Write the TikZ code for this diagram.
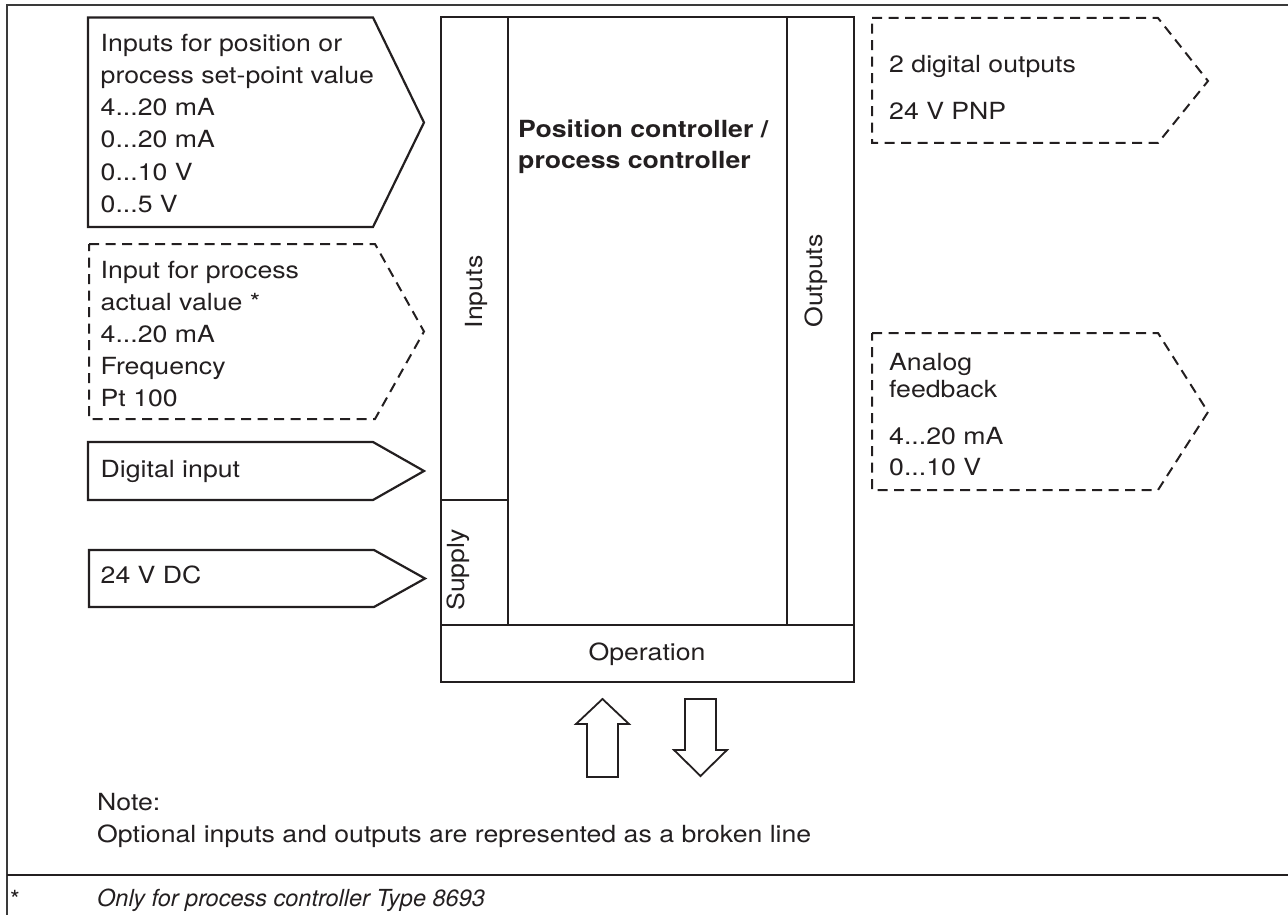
\documentclass[tikz,border=0pt]{standalone}
\usepackage{fontspec}
\setmainfont[FakeStretch=1.13]{TeX Gyre Heros}
\newfontfamily\footfont{TeX Gyre Heros}
\definecolor{ink}{HTML}{231F20}
\definecolor{frame}{HTML}{3A3A3A}
\begin{document}
\begin{tikzpicture}[x=1pt,y=-1pt,
  txt/.style={inner sep=0pt,anchor=base west,text=ink,font=\fontsize{23.6}{30}\selectfont},
  ctxt/.style={inner sep=0pt,anchor=base,text=ink,font=\fontsize{23.6}{30}\selectfont},
  rtxt/.style={inner sep=0pt,anchor=center,rotate=90,text=ink,font=\fontsize{23.6}{30}\selectfont},
  solidbox/.style={draw=ink,line width=2.2pt,line join=miter},
  optbox/.style={draw=ink,line width=2pt,dash pattern=on 10pt off 6.5pt},
  blockline/.style={draw=ink,line width=2.3pt},
  openarrow/.style={draw=ink,line width=1.8pt,fill=white,line join=miter}]
\useasboundingbox (0,0) rectangle (1288,915);
% outer frame
\draw[frame,line width=1.6pt] (1288,5) -- (7,5) -- (7,915);
\draw[ink,line width=2.6pt] (7,875) -- (1288,875);

% left input boxes
\draw[solidbox] (88,17.5) -- (373,17.5) -- (424,122.5) -- (373,227) -- (88,227) -- cycle;
\node[txt] (i1a) at (100.5,52) {Inputs for position or};
\node[txt] (i1b) at (100.5,84) {process set-point value};
\node[txt] (i1c) at (100.5,116) {4...20 mA};
\node[txt] (i1d) at (100.5,148) {0...20 mA};
\node[txt] (i1e) at (100.5,180) {0...10 V};
\node[txt] (i1f) at (100.5,212) {0...5 V};

\draw[optbox] (89,244) -- (375,244) -- (424,331.5) -- (375,419) -- (89,419) -- cycle;
\node[txt] (i2a) at (100.5,278) {Input for process};
\node[txt] (i2b) at (100.5,310) {actual value *};
\node[txt] (i2c) at (100.5,342) {4...20 mA};
\node[txt] (i2d) at (100.5,374) {Frequency};
\node[txt] (i2e) at (100.5,406) {Pt 100};

\draw[solidbox] (88,442) -- (373,442) -- (424,471) -- (373,500) -- (88,500) -- cycle;
\node[txt] (i3) at (100.5,477) {Digital input};

\draw[solidbox] (89,550) -- (374,550) -- (425,578.5) -- (374,607) -- (89,607) -- cycle;
\node[txt] (i4) at (100.5,583) {24 V DC};

% central block
\draw[blockline] (441,17) rectangle (854,682);
\draw[blockline] (508,17) -- (508,625);
\draw[blockline] (787,17) -- (787,625);
\draw[blockline] (441,625) -- (854,625);
\draw[blockline] (441,500) -- (508,500);
\node[txt,font=\fontsize{23.6}{30}\selectfont\bfseries] (t1) at (518,138) {Position controller /};
\node[txt,font=\fontsize{23.6}{30}\selectfont\bfseries] (t2) at (518,168) {process controller};
\node[rtxt] (inp) at (476,292) {Inputs};
\node[rtxt] (outp) at (816,281) {Outputs};
\node[rtxt] (sup) at (458,570) {Supply};
\node[ctxt] (op) at (647,660) {Operation};

% operation arrows
\draw[openarrow] (587,777) -- (587,724) -- (576,724) -- (602.5,699) -- (629,724) -- (618,724) -- (618,777) -- cycle;
\draw[openarrow] (685,699) -- (716,699) -- (716,750) -- (727,750) -- (700.5,776) -- (674,750) -- (685,750) -- cycle;

% right output boxes
\draw[optbox] (872,18) -- (1158,18) -- (1208,81) -- (1158,143) -- (872,143) -- cycle;
\node[txt] (o1a) at (889,73) {2 digital outputs};
\node[txt] (o1b) at (889,120) {24 V PNP};

\draw[optbox] (872,333) -- (1158,333) -- (1208,412) -- (1158,490) -- (872,490) -- cycle;
\node[txt] (o2a) at (889,370) {Analog};
\node[txt] (o2b) at (889,397) {feedback};
\node[txt] (o2c) at (889,444) {4...20 mA};
\node[txt] (o2d) at (889,475) {0...10 V};

% note
\node[txt] (n1) at (97,810) {Note:};
\node[txt] (n2) at (97,842) {Optional inputs and outputs are represented as a broken line};

% footnote
\node[txt,font=\fontsize{25}{28}\footfont] (fs) at (10,908) {*};
\node[txt,font=\fontsize{23.5}{28}\footfont\itshape] (fn) at (97,906) {Only for process controller Type 8693};
\end{tikzpicture}
\end{document}
